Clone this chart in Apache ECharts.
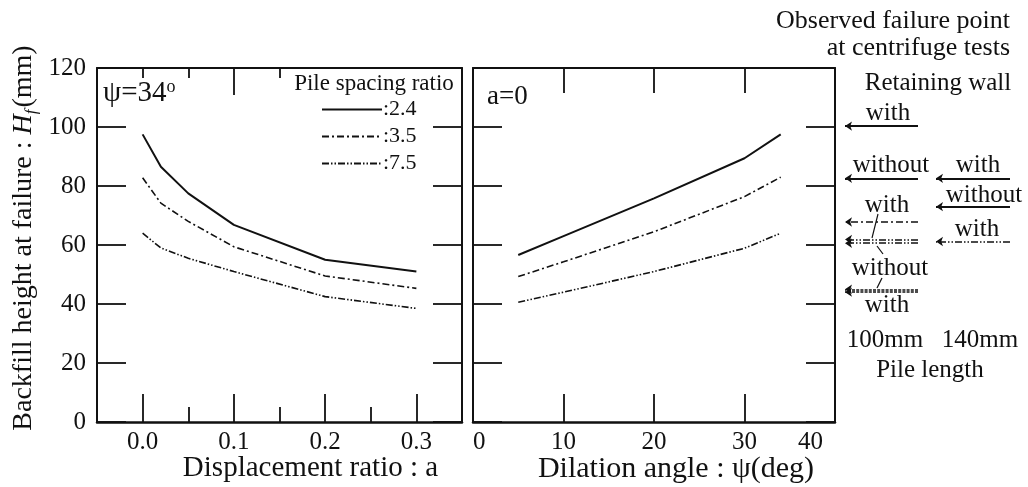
<!DOCTYPE html>
<html><head><meta charset="utf-8">
<script src="https://cdn.jsdelivr.net/npm/echarts@6/dist/echarts.min.js"></script>
<style>html,body{margin:0;padding:0;background:#fff}#c{width:1028px;height:487px}</style>
</head><body><div id="c"></div>
<script>
// ---- data ----
const dispRatio = [0, 0.02, 0.05, 0.1, 0.2, 0.3];
const hfDisp24 = [97.5, 86.5, 77.5, 66.8, 55.0, 51.0];
const hfDisp35 = [82.8, 74.2, 68.0, 59.4, 49.5, 45.3];
const hfDisp75 = [64.0, 59.0, 55.5, 51.0, 42.5, 38.5];

const dilationAngle = [5, 10, 20, 30, 34];
const hfDil24 = [56.6, 63.0, 75.8, 89.4, 97.5];
const hfDil35 = [49.3, 54.3, 64.5, 76.4, 83.0];
const hfDil75 = [40.6, 44.0, 51.0, 58.9, 64.0];

const spacingRatios = [':2.4', ':3.5', ':7.5'];
const dispMajorTicks = [0, 0.1, 0.2, 0.3];
const dispMinorTicks = [0.05, 0.15, 0.25];
const dilMajorTicks = [10, 20, 30];
const dilLabels = [0, 10, 20, 30, 40];

// observed failure points at centrifuge tests (Hf, mm)
const obs100Hf = [100.3, 82.6, 67.8, 61.9, 60.6, 45.0, 44.0];
const obs100Style = ['solid', 'solid', 'dashdot', 'dashdotdot', 'dashdotdot', 'dense', 'dense'];
const obs140Hf = [82.6, 73.0, 61.2];
const obs140Style = ['solid', 'solid', 'dashdotdot'];

// ---- styles/layout ----
const FONT = '"Liberation Serif", "DejaVu Serif", serif';
const INK = '#111';
const dashes = {
  solid: 'solid',
  dashdot: [7, 3, 2, 3],
  dashdotdot: [7, 2, 1.5, 2, 1.5, 2],
  dense: [3, 1.2]
};
const seriesStyles = [
  {type: dashes.solid, width: 2},
  {type: dashes.dashdot, width: 1.6},
  {type: dashes.dashdotdot, width: 1.6}
];
const G = {top: 68, height: 354};
const annLeft = 838;
const col100 = [7, 80];
const col140 = [98, 172];
const ANN = 25;

const chart = echarts.init(document.getElementById('c'), null, {renderer: 'canvas'});

function xAx(grid, min, max, pos, ticks, len, showLine, labels, extra) {
  return Object.assign({
    type: 'value', gridIndex: grid, min: min, max: max, position: pos,
    axisLine: {show: showLine, onZero: pos === 'bottom', lineStyle: {color: INK, width: pos === 'bottom' ? 2.5 : 2}},
    axisTick: {show: ticks.length > 0, inside: true, length: len, customValues: ticks, lineStyle: {color: INK, width: 1.8}},
    axisLabel: labels ? Object.assign({show: true, color: INK, fontFamily: FONT, fontSize: 25, margin: 8}, labels) : {show: false},
    splitLine: {show: false}
  }, extra || {});
}
function yAx(grid, pos, showLabels) {
  return {
    type: 'value', gridIndex: grid, min: 0, max: 120, interval: 20, position: pos,
    axisLine: {show: true, onZero: false, lineStyle: {color: INK, width: 2}},
    axisTick: {show: true, inside: true, length: 29, lineStyle: {color: INK, width: 1.8}},
    axisLabel: {show: showLabels, color: INK, fontFamily: FONT, fontSize: 25, margin: 11},
    splitLine: {show: false}
  };
}

const xAxes = [
  // left panel
  xAx(0, -0.05, 0.35, 'bottom', dispMajorTicks, 28, true,
      {customValues: dispMajorTicks, formatter: v => v.toFixed(1)},
      {name: 'Displacement ratio : a', nameLocation: 'middle', nameGap: 32, nameMoveOverlap: false,
       nameTextStyle: {color: INK, fontFamily: FONT, fontSize: 29, padding: [0, 0, 0, 62]}}),
  xAx(0, -0.05, 0.35, 'bottom', dispMinorTicks, 15, false, null),
  xAx(0, -0.05, 0.35, 'top', [0.1], 27, true, null),
  xAx(0, -0.05, 0.35, 'top', [0, 0.05, 0.15], 10, false, null),
  // right panel
  xAx(1, 0, 40, 'bottom', dilMajorTicks, 28, true,
      {customValues: dilLabels, alignMinLabel: 'left', alignMaxLabel: 'right',
       formatter: v => v === 40 ? '{m|40}' : String(v),
       rich: {m: {fontFamily: FONT, fontSize: 25, color: INK, padding: [0, 12, 0, 0]}}},
      {name: 'Dilation angle : ψ(deg)', nameLocation: 'middle', nameGap: 32, nameMoveOverlap: false,
       nameTextStyle: {color: INK, fontFamily: FONT, fontSize: 30, padding: [0, 0, 0, 44]}}),
  xAx(1, 0, 40, 'top', dilMajorTicks, 25, true, null),
  // annotation area (hidden)
  {type: 'value', gridIndex: 2, min: 0, max: 190, show: false}
];
const yAxes = [
  yAx(0, 'left', true), yAx(0, 'right', false),
  yAx(1, 'left', false), yAx(1, 'right', false),
  {type: 'value', gridIndex: 2, min: 0, max: 120, show: false}
];

function lineSeries(name, xs, ys, st, xi, yi) {
  return {
    name: name, type: 'line', xAxisIndex: xi, yAxisIndex: yi,
    data: xs.map((x, i) => [x, ys[i]]),
    symbol: 'none', showSymbol: false, silent: true,
    lineStyle: {color: INK, width: st.width, type: st.type},
    itemStyle: {color: INK}
  };
}

function arrows(hf, styles, col) {
  return {
    type: 'lines', coordinateSystem: 'cartesian2d', xAxisIndex: 6, yAxisIndex: 4,
    symbol: ['none', 'arrow'], symbolSize: 7, silent: true,
    lineStyle: {color: INK, width: 1.5, opacity: 1},
    data: hf.map((h, i) => ({
      coords: [[col[1], h], [col[0], h]],
      lineStyle: {type: dashes[styles[i]], width: styles[i] === 'solid' ? 2 : 1.5}
    }))
  };
}

const series = [
  lineSeries(spacingRatios[0], dispRatio, hfDisp24, seriesStyles[0], 0, 0),
  lineSeries(spacingRatios[1], dispRatio, hfDisp35, seriesStyles[1], 0, 0),
  lineSeries(spacingRatios[2], dispRatio, hfDisp75, seriesStyles[2], 0, 0),
  lineSeries(spacingRatios[0], dilationAngle, hfDil24, seriesStyles[0], 4, 2),
  lineSeries(spacingRatios[1], dilationAngle, hfDil35, seriesStyles[1], 4, 2),
  lineSeries(spacingRatios[2], dilationAngle, hfDil75, seriesStyles[2], 4, 2),
  arrows(obs100Hf, obs100Style, col100),
  arrows(obs140Hf, obs140Style, col140)
];

function txt(text, x, y, size, align, extra) {
  return Object.assign({
    type: 'text', x: x, y: y, silent: true,
    style: {text: text, fill: INK, font: size + 'px ' + FONT, align: align || 'center', verticalAlign: 'middle'}
  }, extra || {});
}
function seg(x1, y1, x2, y2) {
  return {type: 'line', silent: true, shape: {x1, y1, x2, y2}, style: {stroke: INK, lineWidth: 1.2}};
}

const graphics = [
  // y axis title
  {
    type: 'text', x: 24, y: 238, rotation: Math.PI / 2, silent: true,
    style: {
      text: '{n|Backfill height at failure : }{i|H}{s|f}{n|(mm)}',
      fill: INK, align: 'center', verticalAlign: 'middle',
      rich: {
        n: {fontFamily: FONT, fontSize: 28, fill: INK, lineHeight: 32},
        i: {fontFamily: FONT, fontSize: 28, fontStyle: 'italic', fill: INK, lineHeight: 32},
        s: {fontFamily: FONT, fontSize: 17, fontStyle: 'italic', fill: INK, lineHeight: 32, verticalAlign: 'bottom', padding: [0, 2, 0, 0]}
      }
    }
  },
  // panel labels
  {
    type: 'text', x: 103, y: 93, silent: true,
    style: {
      text: '{n|ψ=34}{o|o}', align: 'left', verticalAlign: 'middle',
      rich: {
        n: {fontFamily: FONT, fontSize: 29, fill: INK, lineHeight: 30},
        o: {fontFamily: FONT, fontSize: 18, fill: INK, lineHeight: 30, verticalAlign: 'top'}
      }
    }
  },
  txt('a=0', 487, 97, 27, 'left'),
  // legend title
  txt('Pile spacing ratio', 374, 84, 23, 'center', {z: 10}),
  // annotation texts
  txt('Observed failure point', 1010, 21, 26, 'right'),
  txt('at centrifuge tests', 1010, 48, 26, 'right'),
  txt('Retaining wall', 938, 83, ANN, 'center'),
  txt('with', 888, 113, ANN),
  txt('without', 891, 165, ANN),
  txt('with', 978, 165, ANN),
  txt('without', 984, 195, ANN),
  txt('with', 887, 205, ANN),
  txt('with', 977, 229, ANN),
  txt('without', 890, 268, ANN),
  txt('with', 887, 305, ANN),
  txt('100mm', 885, 340, ANN),
  txt('140mm', 980, 340, ANN),
  txt('Pile length', 930, 370, ANN),
  seg(878, 214, 872, 238),
  seg(877, 246, 883, 254),
  seg(882, 278, 877, 288)
];

const option = {
  backgroundColor: '#fff',
  animation: false,
  textStyle: {fontFamily: FONT},
  grid: [
    {left: 97, top: G.top, width: 365, height: G.height, outerBoundsMode: 'none', containLabel: false},
    {left: 473, top: G.top, width: 362, height: G.height, outerBoundsMode: 'none', containLabel: false},
    {left: annLeft, top: G.top, width: 190, height: G.height, outerBoundsMode: 'none', containLabel: false}
  ],
  legend: {
    data: spacingRatios, orient: 'vertical', left: 316, top: 93,
    itemWidth: 60, itemHeight: 14, itemGap: 4,
    itemStyle: {opacity: 0},
    textStyle: {color: INK, fontFamily: FONT, fontSize: 22, lineHeight: 23, padding: [0, 0, 0, -4]},
    selectedMode: false
  },
  xAxis: xAxes,
  yAxis: yAxes,
  series: series,
  graphic: graphics
};
chart.setOption(option);
</script>
</body></html>
